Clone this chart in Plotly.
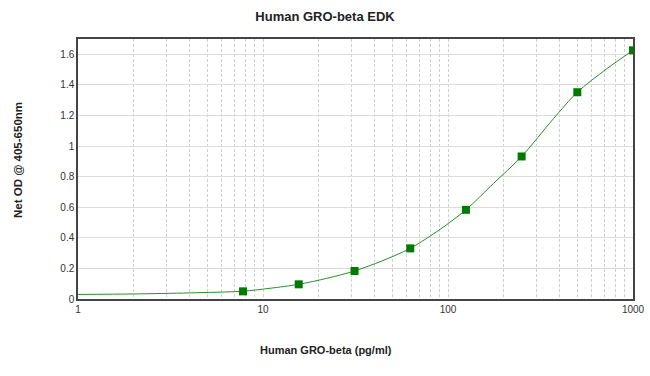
import plotly.graph_objects as go

# Standard points
conc = [7.8, 15.6, 31.25, 62.5, 125, 250, 500, 1000]
od = [0.050, 0.096, 0.183, 0.331, 0.583, 0.932, 1.352, 1.626]

# Fitted curve
curve_x = [1, 2, 4, 7.8, 10.9, 15.6, 22.1, 31.25, 43.8, 62.5, 90.5, 125, 176, 250, 371, 500, 721, 1000]
curve_y = [0.030, 0.033, 0.040, 0.051, 0.070, 0.096, 0.135, 0.183, 0.248, 0.331, 0.455, 0.583,
           0.755, 0.932, 1.178, 1.352, 1.505, 1.626]

tickvals = []
ticktext = []
for d in [1, 10, 100]:
    for m in range(1, 10):
        tickvals.append(d * m)
        ticktext.append(str(d) if m == 1 else "")
tickvals.append(1000)
ticktext.append("1000")

yticks = [0, 0.2, 0.4, 0.6, 0.8, 1, 1.2, 1.4, 1.6]
ytext = ["0", "0.2", "0.4", "0.6", "0.8", "1", "1.2", "1.4", "1.6"]

fig = go.Figure()
fig.add_trace(go.Scatter(x=curve_x, y=curve_y, mode="lines",
                         line=dict(color="#2a8f2a", width=1, shape="spline", smoothing=0.8),
                         hoverinfo="skip", showlegend=False))
fig.add_trace(go.Scatter(x=conc, y=od, mode="markers",
                         marker=dict(symbol="square", size=8, color="#007a00"),
                         showlegend=False))

font = "Liberation Sans, Arial, sans-serif"
fig.update_layout(
    width=650, height=376,
    margin=dict(l=78, r=17, t=39, b=77, autoexpand=False),
    paper_bgcolor="white", plot_bgcolor="white",
    font=dict(family=font, size=10, color="#333333"),
    title=dict(text="<b>Human GRO-beta EDK</b>", x=0.5, xref="container",
               y=1 - 16 / 376, yref="container", yanchor="middle",
               font=dict(family=font, size=13, color="#222222")),
    xaxis=dict(type="log", range=[0, 3], tickvals=tickvals, ticktext=ticktext,
               showgrid=True, gridcolor="#d0d0d0", griddash="3px,2px", gridwidth=1,
               showline=True, linecolor="#444444", linewidth=1.5, mirror=True,
               ticks="", zeroline=False, automargin=False, ticklabeloverflow="allow",
               tickfont=dict(size=10, color="#333333")),
    yaxis=dict(range=[0, 1.7], tickvals=yticks, ticktext=ytext,
               showgrid=True, gridcolor="#dcdcdc", gridwidth=1,
               showline=True, linecolor="#444444", linewidth=1.5, mirror=True,
               ticks="", zeroline=False, automargin=False,
               tickfont=dict(size=10, color="#333333")),
    annotations=[
        dict(text="<b>Human GRO-beta (pg/ml)</b>", xref="paper", yref="paper",
             x=(326 - 78) / 555, y=(299 - 350) / 260, showarrow=False,
             xanchor="center", yanchor="middle",
             font=dict(family=font, size=11, color="#222222")),
        dict(text="<b>Net OD @ 405-650nm</b>", xref="paper", yref="paper",
             x=(18 - 78) / 555, y=(299 - 160) / 260, showarrow=False, textangle=-90,
             xanchor="center", yanchor="middle",
             font=dict(family=font, size=11.5, color="#222222")),
    ],
)
fig.write_html("out.html", config={"displayModeBar": False},
               post_script="document.body.style.margin='0';document.body.style.overflow='hidden';")
